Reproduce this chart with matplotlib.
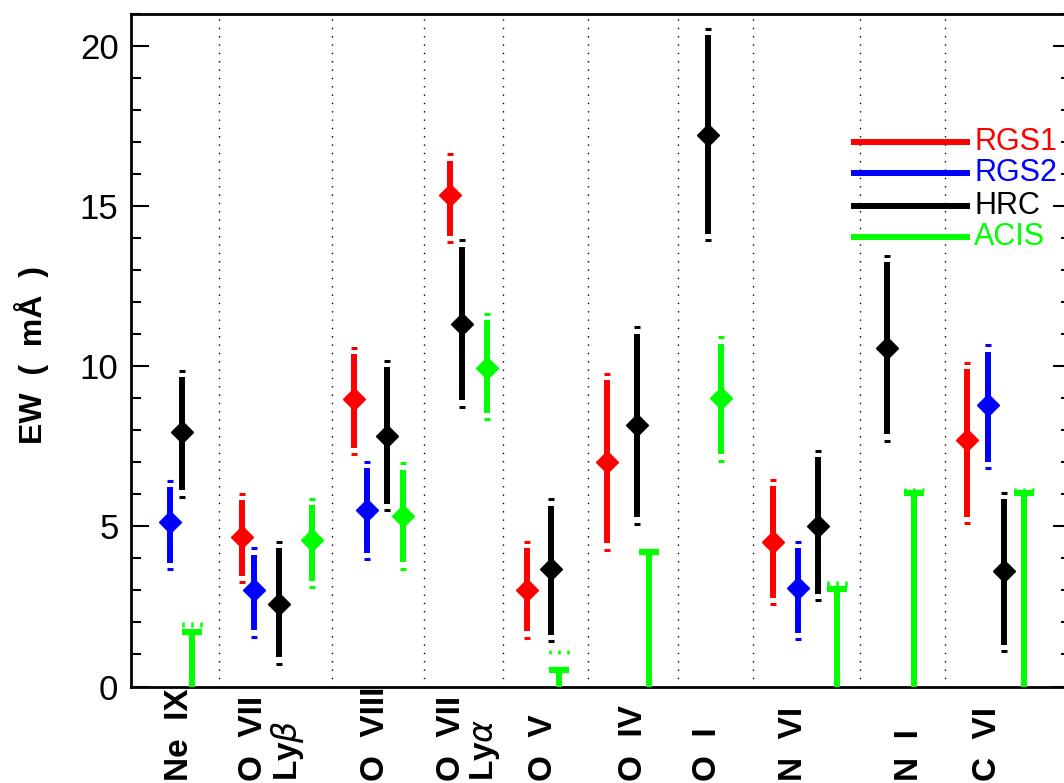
import numpy as np
import matplotlib
matplotlib.use("Agg")
import matplotlib.pyplot as plt
from matplotlib.ticker import MultipleLocator
from matplotlib.transforms import blended_transform_factory

plt.rcParams["font.family"] = ["Liberation Sans", "DejaVu Sans"]

nan = np.nan

# line categories, in plot order
lines = ["Ne  IX", "O  VII\nLy$\\beta$", "O  VIII", "O  VII\nLy$\\alpha$", "O  V",
         "O  IV", "O  I", "N  VI", "N  I", "C  VI"]
# category boundaries and label positions (arbitrary x units)
edges = [0.88, 2.01, 2.93, 3.72, 4.57, 5.47, 6.22, 7.29, 8.14]
label_x = [0.48, 1.41, 2.44, 3.38, 4.12, 5.02, 5.77, 6.62, 7.78, 8.57]

# RGS1
rgs1_x = [nan, 1.11, 2.23, 3.19, 3.96, 4.76, nan, 6.42, nan, 8.36]
rgs1_ew = [nan, 4.67, 8.97, 15.34, 3.01, 7.02, nan, 4.51, nan, 7.71]
rgs1_lo = [nan, 3.26, 7.26, 13.87, 1.52, 4.27, nan, 2.57, nan, 5.10]
rgs1_hi = [nan, 6.01, 10.58, 16.62, 4.51, 9.77, nan, 6.45, nan, 10.10]

# RGS2
rgs2_x = [0.39, 1.23, 2.36, nan, nan, nan, nan, 6.67, nan, 8.57]
rgs2_ew = [5.13, 3.01, 5.50, nan, nan, nan, nan, 3.08, nan, 8.79]
rgs2_lo = [3.66, 1.56, 3.97, nan, nan, nan, nan, 1.48, nan, 6.82]
rgs2_hi = [6.43, 4.32, 7.01, nan, nan, nan, nan, 4.51, nan, 10.66]

# HRC
hrc_x = [0.51, 1.48, 2.56, 3.31, 4.20, 5.06, 5.77, 6.87, 7.56, 8.73]
hrc_ew = [7.96, 2.59, 7.83, 11.31, 3.68, 8.17, 17.23, 5.01, 10.57, 3.61]
hrc_lo = [5.93, 0.71, 5.50, 8.74, 1.42, 5.08, 13.93, 2.69, 7.68, 1.10]
hrc_hi = [9.85, 4.52, 10.17, 13.93, 5.85, 11.22, 20.54, 7.36, 13.45, 6.05]

# ACIS detections
acis_x = [nan, 1.81, 2.72, 3.56, nan, nan, 5.90, nan, nan, nan]
acis_ew = [nan, 4.59, 5.32, 9.96, nan, nan, 9.00, nan, nan, nan]
acis_lo = [nan, 3.11, 3.68, 8.34, nan, nan, 7.05, nan, nan, nan]
acis_hi = [nan, 5.87, 6.97, 11.63, nan, nan, 10.90, nan, nan, nan]

# ACIS upper limits
acis_ul_x = [0.61, nan, nan, nan, 4.28, 5.18, nan, 7.06, 7.83, 8.93]
acis_ul = [1.70, nan, nan, nan, 0.50, 4.20, nan, 3.05, 6.05, 6.05]
acis_ul_ext = [2.00, nan, nan, nan, 1.15, nan, nan, 3.30, 6.20, 6.20]

RED, BLUE, BLACK, GREEN = "#ff0000", "#0000ff", "#000000", "#00ff00"

fig = plt.figure(figsize=(10.64, 7.83), dpi=100)
ax = fig.add_axes([131 / 1064, 96.5 / 783, 940 / 1064, 672.5 / 783])
ax.set_xlim(0, 9.40)
ax.set_ylim(0, 21)

for e in edges:
    ax.axvline(e, color="black", lw=1.0, ls=(0, (1, 5)), zorder=1)


def draw_err(xs, ews, los, his, color):
    gap = 0.2
    for x, v, lo, hi in zip(xs, ews, los, his):
        if np.isnan(v):
            continue
        ax.plot([x, x], [lo + gap, hi - gap], color=color, lw=4.3,
                solid_capstyle="butt", zorder=3)
        ax.plot([x, x], [lo, hi], ls="none", marker="_", ms=4.5, mew=2.2,
                color=color, zorder=3)
        ax.plot(x, v, marker="D", ms=11, color=color, mec=color, zorder=4)


draw_err(rgs1_x, rgs1_ew, rgs1_lo, rgs1_hi, RED)
draw_err(rgs2_x, rgs2_ew, rgs2_lo, rgs2_hi, BLUE)
draw_err(hrc_x, hrc_ew, hrc_lo, hrc_hi, BLACK)
draw_err(acis_x, acis_ew, acis_lo, acis_hi, GREEN)

for x, ul, ext in zip(acis_ul_x, acis_ul, acis_ul_ext):
    if np.isnan(ul):
        continue
    ax.plot([x, x], [0, ul], color=GREEN, lw=4.3, solid_capstyle="butt", zorder=3)
    ax.plot(x, ul, marker="_", ms=15, mew=4.5, color=GREEN, zorder=3)
    if not np.isnan(ext):
        ax.vlines([x - 0.09, x, x + 0.09], max(ul + 0.1, ext - 0.15), ext,
                  color=GREEN, lw=1.8, zorder=3)

# axes styling
for s in ax.spines.values():
    s.set_linewidth(2)
ax.set_xticks([])
ax.set_yticks([0, 5, 10, 15, 20])
ax.yaxis.set_minor_locator(MultipleLocator(1))
ax.tick_params(axis="y", which="major", direction="in", length=13, width=1.5,
               right=True, labelsize=25, pad=9)
ax.tick_params(axis="y", which="minor", direction="in", length=7, width=1.5,
               right=True)

# category labels under the axis
trans = blended_transform_factory(ax.transData, fig.transFigure)
for lx, name in zip(label_x, lines):
    ax.text(lx, 0.003, name, transform=trans, rotation=90, ha="center",
            va="bottom", multialignment="left", fontsize=24, weight="bold",
            linespacing=1.0, clip_on=False)

fig.text(32 / 1064, 1 - 355 / 783, "EW  (  mÅ  )", rotation=90, fontsize=23,
         weight="bold", ha="center", va="center")

# legend
names = ["RGS1", "RGS2", "HRC", "ACIS"]
cols = [RED, BLUE, BLACK, GREEN]
ys = [0.810, 0.763, 0.715, 0.668]
for name, c, y in zip(names, cols, ys):
    ax.plot([0.766, 0.893], [y, y], transform=ax.transAxes, color=c, lw=4.3,
            solid_capstyle="butt", zorder=5)
    ax.text(0.897, y, name, transform=ax.transAxes, color=c, fontsize=22,
            ha="left", va="center", zorder=5)

fig.savefig("out.png", dpi=100)
